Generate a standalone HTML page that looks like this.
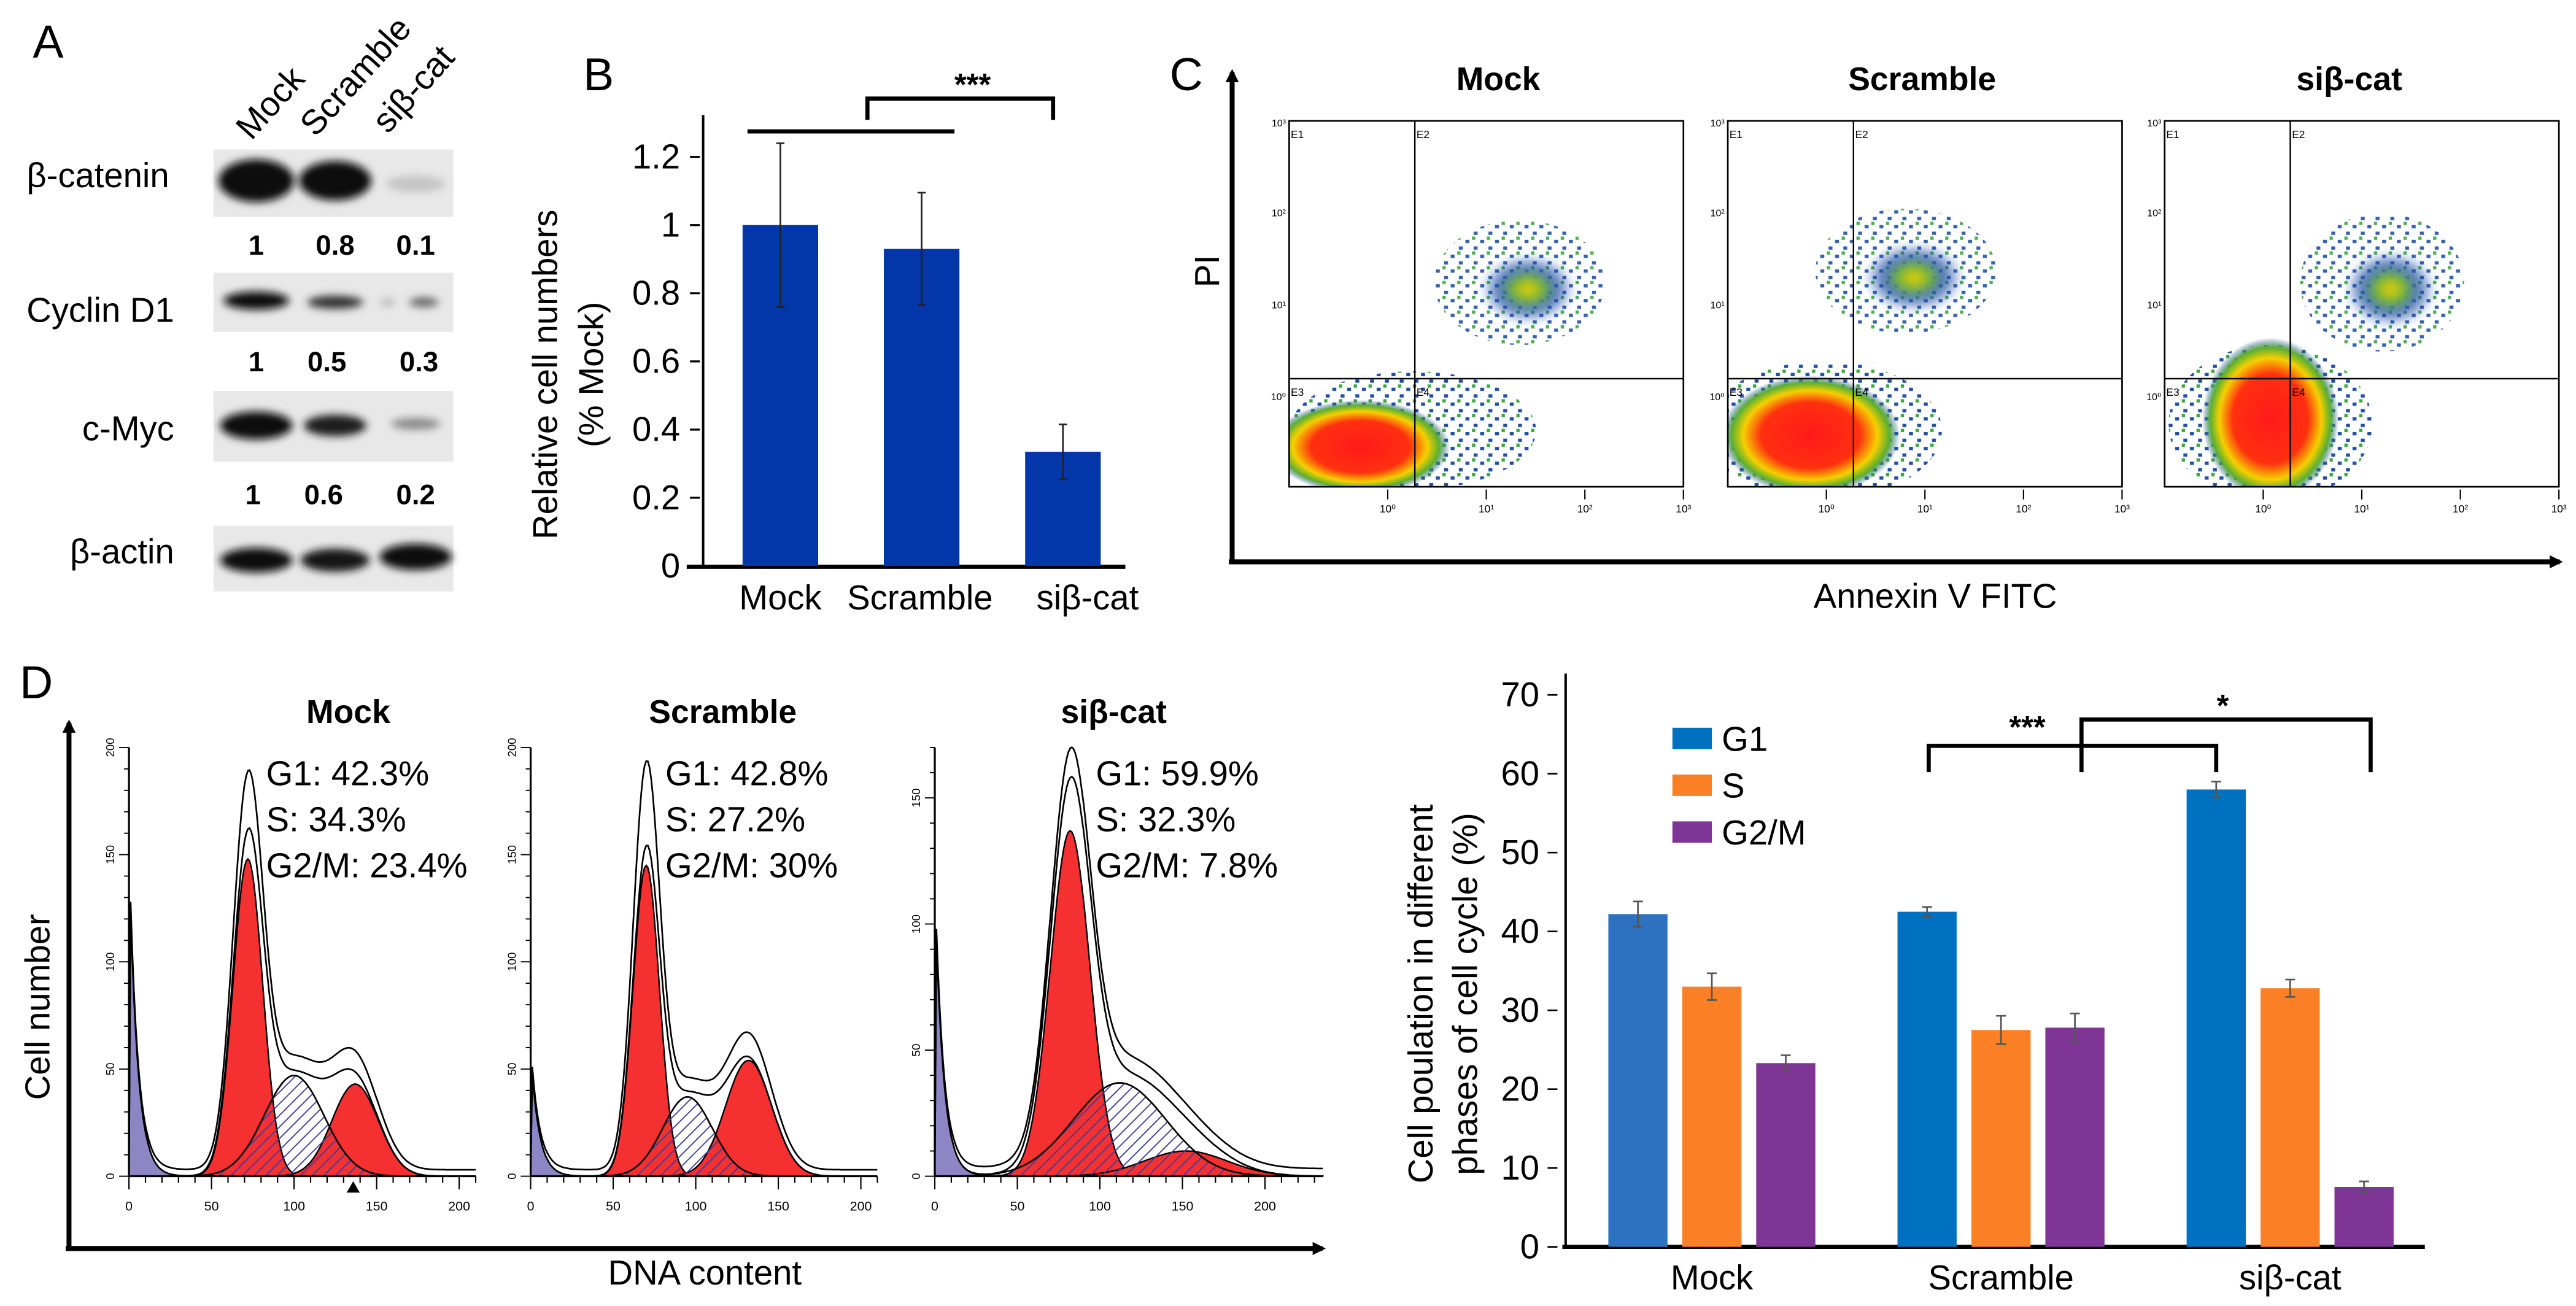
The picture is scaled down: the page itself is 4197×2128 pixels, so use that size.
<!DOCTYPE html>
<html><head><meta charset="utf-8"><style>
html,body{margin:0;padding:0;background:#fff;}
svg{display:block;font-family:"Liberation Sans",sans-serif;}
</style></head><body>
<svg id="fig" width="4197" height="2128" viewBox="0 0 1568 795" preserveAspectRatio="none" xmlns="http://www.w3.org/2000/svg">
<defs>
<pattern id="hatch" width="5" height="5" patternUnits="userSpaceOnUse" patternTransform="rotate(45)"><line x1="0" y1="0" x2="0" y2="5" stroke="#3a3d9c" stroke-width="1.4"/></pattern>
<pattern id="speck" width="9" height="9" patternUnits="userSpaceOnUse"><rect x="1" y="2" width="2.4" height="2" fill="#1f4fa8"/><rect x="6" y="6" width="2.4" height="2" fill="#1f4fa8"/><rect x="5" y="0" width="2" height="2" fill="#3aa83a"/></pattern>
<filter id="blur2"><feGaussianBlur stdDeviation="2.5"/></filter>
<filter id="blur4"><feGaussianBlur stdDeviation="4"/></filter>
<radialGradient id="heat"><stop offset="0" stop-color="#ff1a1a"/><stop offset="0.55" stop-color="#ff3010"/><stop offset="0.75" stop-color="#f5d000"/><stop offset="0.88" stop-color="#5cb030"/><stop offset="1" stop-color="#1f4fa8" stop-opacity="0"/></radialGradient>
<radialGradient id="heat2"><stop offset="0" stop-color="#f0d000"/><stop offset="0.35" stop-color="#6ab33a"/><stop offset="0.6" stop-color="#1f4fa8" stop-opacity="0.8"/><stop offset="1" stop-color="#1f4fa8" stop-opacity="0"/></radialGradient>
<marker id="arrow" markerWidth="8" markerHeight="8" refX="6" refY="4" orient="auto" markerUnits="userSpaceOnUse"><path d="M0,0 L8,4 L0,8 Z" fill="#000"/></marker>
</defs>

<!-- Panel A -->
<g>
<text x="20" y="35" font-size="28">A</text>
<text transform="translate(153,86) rotate(-48)" font-size="21">Mock</text>
<text transform="translate(192,84) rotate(-48)" font-size="21">Scramble</text>
<text transform="translate(236,82) rotate(-48)" font-size="21">siβ-cat</text>
<g font-size="21" text-anchor="end">
<text x="103" y="114">β-catenin</text>
<text x="106" y="196">Cyclin D1</text>
<text x="106" y="268">c-Myc</text>
<text x="106" y="343">β-actin</text>
</g>
<g fill="#e8e8e8">
<rect x="130" y="91" width="146" height="41"/>
<rect x="130" y="166" width="146" height="36"/>
<rect x="130" y="238" width="146" height="43"/>
<rect x="130" y="320" width="146" height="40"/>
</g>
<g filter="url(#blur2)">
<ellipse cx="156" cy="110" rx="23" ry="13" fill="#0a0a0a"/><ellipse cx="204" cy="110" rx="22" ry="12" fill="#111"/><ellipse cx="253" cy="112" rx="18" ry="5" fill="#c4c4c4"/>
<ellipse cx="156" cy="183" rx="20" ry="5.5" fill="#111"/><ellipse cx="204" cy="184" rx="17" ry="4" fill="#333"/><ellipse cx="258" cy="184" rx="9" ry="3" fill="#666"/><ellipse cx="236" cy="184" rx="4" ry="2" fill="#aaa"/>
<ellipse cx="156" cy="259" rx="22" ry="8.5" fill="#0a0a0a"/><ellipse cx="204" cy="259" rx="19" ry="6.5" fill="#1a1a1a"/><ellipse cx="253" cy="258" rx="15" ry="3.5" fill="#888"/>
<ellipse cx="156" cy="341" rx="22" ry="7.5" fill="#111"/><ellipse cx="204" cy="341" rx="21" ry="7" fill="#141414"/><ellipse cx="253" cy="339" rx="22" ry="8" fill="#0a0a0a"/>
</g>
<g font-size="17" font-weight="bold" text-anchor="middle">
<text x="156" y="155">1</text><text x="204" y="155">0.8</text><text x="253" y="155">0.1</text>
<text x="156" y="226">1</text><text x="199" y="226">0.5</text><text x="255" y="226">0.3</text>
<text x="154" y="307">1</text><text x="197" y="307">0.6</text><text x="253" y="307">0.2</text>
</g>
</g>

<!-- Panel B -->
<g id="panelB">
<text x="355" y="55" font-size="28">B</text>
<text transform="translate(339,228) rotate(-90)" font-size="21" text-anchor="middle">Relative cell numbers</text>
<text transform="translate(367,228) rotate(-90)" font-size="21" text-anchor="middle">(% Mock)</text>
<line x1="428" y1="70" x2="428" y2="345" stroke="#000" stroke-width="1.5"/>
<line x1="418" y1="345" x2="685" y2="345" stroke="#000" stroke-width="2.5"/>
<line x1="455" y1="80" x2="581" y2="80" stroke="#000" stroke-width="2.5"/>
<path d="M528,73 V60 H641 V73" fill="none" stroke="#000" stroke-width="2.5"/>
<text x="592" y="58" font-size="19" font-weight="bold" text-anchor="middle">***</text>
</g>

<!-- Panel C -->
<g id="panelC">
<text x="712" y="55" font-size="28">C</text>
<line x1="750" y1="343" x2="750" y2="44" stroke="#000" stroke-width="3" marker-end="url(#arrow)"/>
<line x1="748" y1="342" x2="1558" y2="342" stroke="#000" stroke-width="3" marker-end="url(#arrow)"/>
<text transform="translate(742,165) rotate(-90)" font-size="21" text-anchor="middle">PI</text>
<text x="1178" y="370" font-size="21" text-anchor="middle">Annexin V FITC</text>
</g>

<!-- Panel D histograms -->
<g id="panelD">
<text x="12" y="425" font-size="28">D</text>
<line x1="42" y1="761" x2="42" y2="440" stroke="#000" stroke-width="3" marker-end="url(#arrow)"/>
<line x1="40" y1="760" x2="805" y2="760" stroke="#000" stroke-width="3" marker-end="url(#arrow)"/>
<text transform="translate(30,613) rotate(-90)" font-size="21" text-anchor="middle">Cell number</text>
<text x="429" y="782" font-size="21" text-anchor="middle">DNA content</text>
</g>

<!-- Panel D right bar chart -->
<g id="panelD2">
<text transform="translate(872,605) rotate(-90)" font-size="21" text-anchor="middle">Cell poulation in different</text>
<text transform="translate(899,605) rotate(-90)" font-size="21" text-anchor="middle">phases of cell cycle (%)</text>
<line x1="953" y1="410" x2="953" y2="759" stroke="#000" stroke-width="1.5"/>
<line x1="951" y1="759" x2="1476" y2="759" stroke="#000" stroke-width="2.5"/>
<path d="M1174,470 V454 H1349 V470" fill="none" stroke="#000" stroke-width="2.5"/>
<path d="M1267,470 V438 H1443 V470" fill="none" stroke="#000" stroke-width="2.5"/>
<text x="1234" y="449" font-size="19" font-weight="bold" text-anchor="middle">***</text>
<text x="1353" y="436" font-size="19" font-weight="bold" text-anchor="middle">*</text>
</g>
</svg>
<script>
// ===== Panel B data =====
const bCategories = ["Mock", "Scramble", "siβ-cat"];
const bValues = [1.0, 0.93, 0.335];
const bErrors = [0.24, 0.165, 0.08];
const bTicks = ["0", "0.2", "0.4", "0.6", "0.8", "1", "1.2"];
const bTickValues = [0, 0.2, 0.4, 0.6, 0.8, 1.0, 1.2];

// ===== Panel D bar chart data =====
const dCategories = ["Mock", "Scramble", "siβ-cat"];
const dSeries = ["G1", "S", "G2/M"];
const dG1 = [42.2, 42.5, 58.0];
const dS = [33.0, 27.5, 32.8];
const dG2M = [23.3, 27.8, 7.6];
const dG1Err = [1.6, 0.6, 1.0];
const dSErr = [1.7, 1.8, 1.1];
const dG2MErr = [1.0, 1.8, 0.7];
const dTickValues = [0, 10, 20, 30, 40, 50, 60, 70];

// ===== Panel D histograms: component params [mean, sd, height] =====
const histTitles = ["Mock", "Scramble", "siβ-cat"];
const histG1 = [[72, 9, 148], [70, 8, 145], [82, 12, 137]];
const histS = [[100, 18, 47], [95, 15, 37], [112, 28, 37]];
const histG2 = [[137, 14, 43], [132, 14, 54], [152, 25, 10]];
const histDebris = [125, 48, 95];
const histRawPeak = [185, 190, 165];
const histYMax = [200, 200, 170];
const histXMax = [210, 210, 235];
const histStatsG1 = ["G1: 42.3%", "G1: 42.8%", "G1: 59.9%"];
const histStatsS = ["S: 34.3%", "S: 27.2%", "S: 32.3%"];
const histStatsG2 = ["G2/M: 23.4%", "G2/M: 30%", "G2/M: 7.8%"];

// ===== Panel C labels =====
const cTitles = ["Mock", "Scramble", "siβ-cat"];
const cXTicks = ["10⁰", "10¹", "10²", "10³"];

const NS = "http://www.w3.org/2000/svg";
function mk(parent, tag, attrs, text) {
  const e = document.createElementNS(NS, tag);
  for (const k in attrs) e.setAttribute(k, attrs[k]);
  if (text !== undefined) e.textContent = text;
  parent.appendChild(e);
  return e;
}

// ---- Panel B ----
(function () {
  const g = document.getElementById("panelB");
  const y0 = 344.5, perUnit = 207.5;
  const yB = v => y0 - v * perUnit;
  const barX = i => 452 + i * 86;
  const bw = 46;
  bTickValues.forEach((v, i) => {
    const t = mk(g, "text", { x: 414, y: yB(v) + 7, "font-size": 21, "text-anchor": "end" }, bTicks[i]);
    
    
    const l = mk(g, "line", { x1: 420, x2: 426, y1: yB(v), y2: yB(v), stroke: "#000", "stroke-width": 1.2 });
    
    
  });
  bValues.forEach((v, i) => {
    const r = mk(g, "rect", { x: barX(i), y: yB(v), width: bw, height: yB(0) - yB(v), fill: "#0336a8" });
    
    
    const cx = barX(i) + bw / 2;
    const e = mk(g, "path", { d: `M${cx},${yB(v + bErrors[i])}V${yB(v - bErrors[i])}M${cx - 2.5},${yB(v + bErrors[i])}h5M${cx - 2.5},${yB(v - bErrors[i])}h5`, stroke: "#222", "stroke-width": 1, fill: "none" });
    
    
    const t = mk(g, "text", { x: [475, 560, 662][i], y: 371, "font-size": 21, "text-anchor": "middle" }, bCategories[i]);
    
    
  });
})();

// ---- Panel C ----
(function () {
  const g = document.getElementById("panelC");
  const boxX = [784.7, 1051.7, 1317.6];
  const bw = 240, top = 73.6, bot = 296.3;
  const blobs = [
    { main: [828, 272, 42, 22], ring: [860, 262, 75, 36], up: [925, 172, 52, 38] },
    { main: [1102, 265, 42, 28], ring: [1110, 262, 72, 42], up: [1160, 165, 55, 38] },
    { main: [1382, 255, 32, 38], ring: [1382, 258, 62, 48], up: [1450, 172, 50, 42] }
  ];
  boxX.forEach((x0, i) => {
    const t = mk(g, "text", { x: [912, 1170, 1430][i], y: 55, "font-size": 20, "font-weight": "bold", "text-anchor": "middle" }, cTitles[i]);
    
    
    const clip = mk(g, "clipPath", { id: "cclip" + i });
    mk(clip, "rect", { x: x0, y: top, width: bw, height: bot - top });
    const sg = mk(g, "g", { "clip-path": `url(#cclip${i})` });
    
    
    const b = blobs[i];
    mk(sg, "ellipse", { cx: b.up[0], cy: b.up[1], rx: b.up[2], ry: b.up[3], fill: "url(#speck)", opacity: 0.9 });
    mk(sg, "ellipse", { cx: b.up[0] + 5, cy: b.up[1] + 4, rx: b.up[2] * 0.55, ry: b.up[3] * 0.55, fill: "url(#heat2)", filter: "url(#blur2)" });
    mk(sg, "ellipse", { cx: b.ring[0], cy: b.ring[1], rx: b.ring[2], ry: b.ring[3], fill: "url(#speck)" });
    mk(sg, "ellipse", { cx: b.main[0], cy: b.main[1], rx: b.main[2] * 1.3, ry: b.main[3] * 1.3, fill: "url(#heat)" });
    const r = mk(g, "rect", { x: x0, y: top, width: bw, height: bot - top, fill: "none", stroke: "#000", "stroke-width": 1 });
    
    
    const qx = x0 + 76.5;
    const q = mk(g, "path", { d: `M${qx},${top}V${bot}M${x0},230.5H${x0 + bw}`, stroke: "#000", "stroke-width": 0.9 });
    
    
    [["E1", x0 + 1, 84], ["E2", qx + 1, 84], ["E3", x0 + 1, 241], ["E4", qx + 1, 241]].forEach(e => {
      const tt = mk(g, "text", { x: e[1], y: e[2], "font-size": 6.5 }, e[0]);
      
      
    });
    cXTicks.forEach((lab, k) => {
      const tx = x0 + 60 + k * 60;
      const tt = mk(g, "text", { x: tx, y: 312, "font-size": 6.5, "text-anchor": "middle" }, lab);
      
      
      const tk = mk(g, "line", { x1: tx, x2: tx, y1: 298, y2: 304, stroke: "#000", "stroke-width": 0.8 });
      
      
    });
    ["10³", "10²", "10¹", "10⁰"].forEach((lab, k) => {
      const ty = [75, 129.6, 185.7, 241.6][k];
      const tt = mk(g, "text", { x: x0 - 2, y: ty + 2, "font-size": 6, "text-anchor": "end" }, lab);
      
      
    });
  });
})();

// ---- Panel D histograms ----
(function () {
  const g = document.getElementById("panelD");
  const axX = [78.5, 323, 569];
  const top = 455, base = 716, span200 = 201;
  const gauss = (x, p) => p[2] * Math.exp(-0.5 * Math.pow((x - p[0]) / p[1], 2));
  histTitles.forEach((title, i) => {
    const x0 = axX[i];
    const X = v => x0 + v * span200 / 200;
    const Y = c => base - c * (base - top) / histYMax[i];
    const xs = [];
    for (let v = 0; v <= histXMax[i]; v += 1) xs.push(v);
    const path = (f, close) => {
      let d = xs.map((v, k) => (k ? "L" : "M") + X(v).toFixed(1) + "," + Y(f(v)).toFixed(1)).join("");
      if (close) d += `L${X(histXMax[i])},${base}L${X(0)},${base}Z`;
      return d;
    };
    const deb = v => v < 1 ? 0 : histDebris[i] * Math.exp(-(v - 1) / 5);
    const g1 = v => gauss(v, histG1[i]), s = v => gauss(v, histS[i]), g2 = v => gauss(v, histG2[i]);
    const k = (histRawPeak[i] - s(histG1[i][0]) - g2(histG1[i][0])) / histG1[i][2];
    const t0 = mk(g, "text", { x: [212, 440, 678][i], y: 440, "font-size": 20, "font-weight": "bold", "text-anchor": "middle" }, title);
    
    
    const pd = mk(g, "path", { d: path(deb, true), fill: "#8c86c4", stroke: "#000", "stroke-width": 0.8 });
    
    
    const p1 = mk(g, "path", { d: path(g1, true), fill: "#f53030", stroke: "#000", "stroke-width": 0.9 });
    
    
    const p3 = mk(g, "path", { d: path(g2, true), fill: "#f53030", stroke: "#000", "stroke-width": 0.9 });
    
    
    const p2 = mk(g, "path", { d: path(s, true), fill: "url(#hatch)", stroke: "#000", "stroke-width": 1 });
    
    
    const lt = mk(g, "path", { d: path(v => deb(v) + g1(v) + s(v) + g2(v), false), fill: "none", stroke: "#000", "stroke-width": 1 });
    
    
    const lr = mk(g, "path", { d: path(v => deb(v) + g1(v) * k + s(v) * 1.08 + g2(v) * 1.15 + 3, false), fill: "none", stroke: "#000", "stroke-width": 1 });
    
    
    const ax = mk(g, "path", { d: `M${x0},${top}V${base}H${X(histXMax[i])}`, fill: "none", stroke: "#000", "stroke-width": 1.2 });
    
    
    for (let v = 0; v <= histXMax[i]; v += 10) {
      const tk = mk(g, "line", { x1: X(v), x2: X(v), y1: base, y2: base + (v % 50 ? 4 : 8), stroke: "#000", "stroke-width": 0.8 });
      
      
      if (v % 50 === 0) {
        const tt = mk(g, "text", { x: X(v), y: base + 21, "font-size": 8, "text-anchor": "middle" }, String(v));
        
        
      }
    }
    for (let c = 0; c <= histYMax[i]; c += 10) {
      const tk = mk(g, "line", { x1: x0 - (c % 50 ? 3 : 6), x2: x0, y1: Y(c), y2: Y(c), stroke: "#000", "stroke-width": 0.7 });
      
      
      if (c % 50 === 0) {
        const tt = mk(g, "text", { transform: `translate(${x0 - 9},${Y(c)}) rotate(-90)`, "font-size": 7, "text-anchor": "middle" }, String(c));
        
        
      }
    }
    const sx = [162, 405, 667][i];
    [histStatsG1[i], histStatsS[i], histStatsG2[i]].forEach((txt, j) => {
      const tt = mk(g, "text", { x: sx, y: 478 + j * 28, "font-size": 21 }, txt);
      
      
    });
  });
  const tri = mk(g, "path", { d: "M215,719 l-4,7 h8 Z", fill: "#000" });
  
  
})();

// ---- Panel D bar chart ----
(function () {
  const g = document.getElementById("panelD2");
  const Y = v => 759 - v * 4.8;
  const groupX = i => 979 + i * 176;
  const bw = 36, step = 45;
  const colors = [["#2c72c0", "#0070c0", "#0070c0"], ["#fb7f24", "#fb7f24", "#fb7f24"], ["#7e3596", "#7e3596", "#7e3596"]];
  dTickValues.forEach(v => {
    const t = mk(g, "text", { x: 937, y: Y(v) + 7, "font-size": 21, "text-anchor": "end" }, String(v));
    
    
    const l = mk(g, "line", { x1: 942, x2: 948, y1: Y(v), y2: Y(v), stroke: "#000", "stroke-width": 1 });
    
    
  });
  const series = [dG1, dS, dG2M], errs = [dG1Err, dSErr, dG2MErr];
  dCategories.forEach((cat, i) => {
    series.forEach((arr, j) => {
      const x = groupX(i) + j * step;
      const r = mk(g, "rect", { x: x, y: Y(arr[i]), width: bw, height: Y(0) - Y(arr[i]), fill: colors[j][i] });
      
      
      const cx = x + bw / 2, e = errs[j][i];
      const p = mk(g, "path", { d: `M${cx},${Y(arr[i] + e)}V${Y(arr[i] - e)}M${cx - 3},${Y(arr[i] + e)}h6M${cx - 3},${Y(arr[i] - e)}h6`, stroke: "#555", "stroke-width": 1, fill: "none" });
      
      
    });
    const t = mk(g, "text", { x: groupX(i) + step + bw / 2, y: 785, "font-size": 21, "text-anchor": "middle" }, cat);
    
    
  });
  dSeries.forEach((name, j) => {
    const r = mk(g, "rect", { x: 1018, y: 443 + j * 28.5, width: 24, height: 13, fill: colors[j][1] });
    
    
    const t = mk(g, "text", { x: 1048, y: 457 + j * 28.5, "font-size": 21 }, name);
    
    
  });
})();
</script>
</body></html>
